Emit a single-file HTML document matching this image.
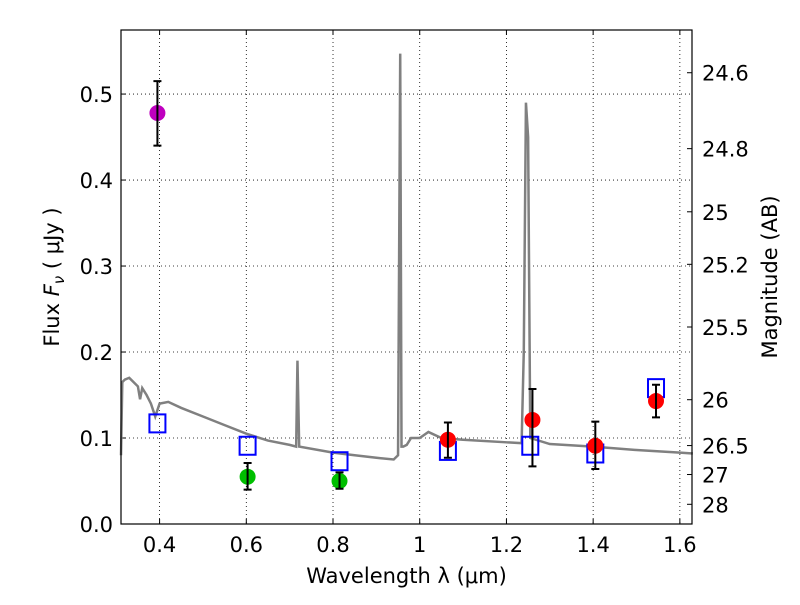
<!DOCTYPE html>
<html><head><meta charset="utf-8"><style>
body{margin:0;background:#fff;font-family:"Liberation Sans","DejaVu Sans",sans-serif}
svg text{font-family:"DejaVu Sans","Liberation Sans",sans-serif;font-size:21px;fill:#000}
</style></head><body>
<svg id="c" width="800" height="600"></svg>
<script>
const specX=[0.311,0.314,0.32,0.33,0.34,0.35,0.355,0.36,0.37,0.38,0.39,0.40,0.42,0.45,0.5,0.55,0.6,0.65,0.7,0.715,0.718,0.722,0.8,0.85,0.9,0.94,0.95,0.955,0.958,0.962,0.97,0.98,1.0,1.02,1.05,1.1,1.2,1.235,1.24,1.245,1.25,1.255,1.3,1.4,1.5,1.6,1.63];
const specY=[0.08,0.165,0.168,0.17,0.165,0.16,0.145,0.158,0.15,0.14,0.125,0.14,0.142,0.135,0.125,0.115,0.105,0.097,0.092,0.09,0.19,0.09,0.083,0.08,0.077,0.075,0.08,0.547,0.09,0.09,0.092,0.1,0.1,0.107,0.1,0.098,0.095,0.094,0.2,0.49,0.45,0.1,0.093,0.09,0.086,0.083,0.082];
const photX=[0.395,0.603,0.815,1.065,1.26,1.405,1.545];
const photY=[0.478,0.055,0.05,0.098,0.121,0.091,0.143];
const photLo=[0.44,0.04,0.041,0.077,0.067,0.064,0.124];
const photHi=[0.515,0.071,0.06,0.118,0.157,0.119,0.162];
const photColor=['#bf00bf','#00bf00','#00bf00','#ff0000','#ff0000','#ff0000','#ff0000'];
const modX=[0.395,0.603,0.815,1.065,1.255,1.405,1.545];
const modY=[0.117,0.091,0.073,0.085,0.091,0.082,0.158];
const xTicks=[0.4,0.6,0.8,1,1.2,1.4,1.6];
const yTicks=[0,0.1,0.2,0.3,0.4,0.5];
const magTicks=[24.6,24.8,25,25.2,25.5,26,26.5,27,28];
const L=121,R=692,T=30,B=524,X0=0.311,X1=1.628,Y0=0,Y1=0.5745;
const sx=v=>L+(v-X0)/(X1-X0)*(R-L), sy=v=>B-(v-Y0)/(Y1-Y0)*(B-T);
const svg=document.getElementById('c');const NS='http://www.w3.org/2000/svg';
function mk(t,a,txt){const e=document.createElementNS(NS,t);for(const k in a)e.setAttribute(k,a[k]);if(txt!==undefined)e.textContent=txt;svg.appendChild(e);return e;}
xTicks.forEach(v=>{const x=sx(v);
const g=mk('line',{x1:x,x2:x,y1:T,y2:B,stroke:'#000','stroke-dasharray':'1,3','stroke-width':0.8});

const t=mk('text',{x:x,y:B+28,'text-anchor':'middle'},String(v));

mk('line',{x1:x,x2:x,y1:B,y2:B-5,stroke:'#000'});mk('line',{x1:x,x2:x,y1:T,y2:T+5,stroke:'#000'});});
yTicks.forEach(v=>{const y=sy(v);
const g=mk('line',{x1:L,x2:R,y1:y,y2:y,stroke:'#000','stroke-dasharray':'1,3','stroke-width':0.8});

const t=mk('text',{x:L-8,y:y+8,'text-anchor':'end'},v.toFixed(1));

mk('line',{x1:L,x2:L+5,y1:y,y2:y,stroke:'#000'});});
magTicks.forEach(m=>{const f=Math.pow(10,(23.9-m)/2.5);const y=sy(f);
mk('line',{x1:R,x2:R-5,y1:y,y2:y,stroke:'#000'});
const t=mk('text',{x:R+10,y:y+8,'text-anchor':'start'},String(m));
});
const sp=mk('polyline',{points:specX.map((x,i)=>sx(x)+','+sy(specY[i])).join(' '),fill:'none',stroke:'#808080','stroke-width':2.5});

modX.forEach((x,i)=>{const r=mk('rect',{x:sx(x)-8,y:sy(modY[i])-9,width:16,height:18,fill:'none',stroke:'#0000ff','stroke-width':2});
});
photX.forEach((x,i)=>{const cx=sx(x);
const c=mk('circle',{cx:cx,cy:sy(photY[i]),r:8,fill:photColor[i]});

const e=mk('path',{d:`M${cx},${sy(photLo[i])}V${sy(photHi[i])}M${cx-4},${sy(photLo[i])}h8M${cx-4},${sy(photHi[i])}h8`,stroke:'#000','stroke-width':2,fill:'none'});
});
const fr=mk('rect',{x:L,y:T,width:R-L,height:B-T,fill:'none',stroke:'#000','stroke-width':1.2});

const xt=mk('text',{x:(L+R)/2,y:583,'text-anchor':'middle'},'Wavelength  λ (μm)');

const yt=mk('text',{x:0,y:0,'text-anchor':'middle',transform:`translate(59,${(T+B)/2}) rotate(-90)`});
yt.innerHTML='Flux  <tspan font-style="italic">F</tspan><tspan font-style="italic" font-size="15" dy="5">ν</tspan><tspan dy="-5">  ( μJy )</tspan>';

const rt=mk('text',{x:0,y:0,'text-anchor':'middle',transform:`translate(777,${(T+B)/2}) rotate(-90)`},'Magnitude (AB)');

</script></body></html>
